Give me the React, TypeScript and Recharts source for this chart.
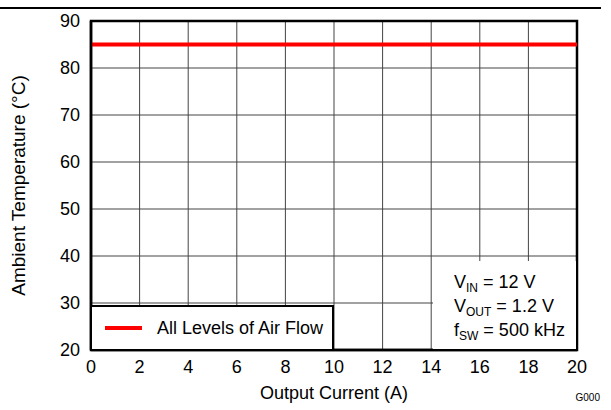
import {
  LineChart,
  Line,
  XAxis,
  YAxis,
  CartesianGrid,
  ReferenceArea,
  Legend,
} from 'recharts'

const currents = [0, 20]
const ambientTemp = [85, 85]
const xTicks = [0, 2, 4, 6, 8, 10, 12, 14, 16, 18, 20]
const yTicks = [20, 30, 40, 50, 60, 70, 80, 90]
const seriesName = 'All Levels of Air Flow'

const data = currents.map((c, i) => ({ current: c, temp: ambientTemp[i] }))

const font = '"Liberation Sans", Arial, sans-serif'
const tickStyle = { fill: '#000', fontSize: 18, fontFamily: font }

function YLabel({ viewBox }: any) {
  const x = 18
  const y = viewBox.y + viewBox.height / 2
  return (
    <text
      x={x}
      y={y}
      transform={`rotate(-90 ${x} ${y})`}
      textAnchor="middle"
      dominantBaseline="central"
      fontSize={19}
      fontFamily={font}
      fill="#000"
    >
      Ambient Temperature (°C)
    </text>
  )
}

function LegendBox() {
  return (
    <div
      style={{
        boxSizing: 'border-box',
        width: '100%',
        height: '100%',
        border: '2px solid #000',
        background: '#fff',
        display: 'flex',
        alignItems: 'center',
        fontFamily: font,
        fontSize: 18,
        color: '#000',
      }}
    >
      <div style={{ width: 37, height: 4, background: '#ff0000', marginLeft: 13, marginRight: 15 }} />
      <span>{seriesName}</span>
    </div>
  )
}

export default function App() {
  return (
    <div style={{ position: 'absolute', left: 0, top: 0, width: 611, height: 410, background: '#fff' }}>
      <div style={{ position: 'absolute', left: 0, top: 7, width: 601, height: 2, background: '#000' }} />
      <LineChart width={611} height={410} data={data} margin={{ top: 21, right: 34, bottom: 5, left: 0 }}>
        <CartesianGrid stroke="#444" strokeWidth={1} horizontalValues={yTicks} verticalValues={xTicks} />
        <XAxis
          dataKey="current"
          type="number"
          domain={[0, 20]}
          ticks={xTicks}
          height={55}
          tickSize={0}
          tickMargin={10}
          axisLine={{ stroke: '#000', strokeWidth: 2.5 }}
          tick={tickStyle}
          label={{ value: 'Output Current (A)', position: 'insideBottom', offset: 6, fontSize: 18, fontFamily: font, fill: '#000' }}
        />
        <YAxis
          type="number"
          domain={[20, 90]}
          ticks={yTicks}
          width={91}
          tickSize={0}
          tickMargin={11}
          axisLine={{ stroke: '#000', strokeWidth: 2.5 }}
          tick={tickStyle}
          label={<YLabel />}
        />
        <ReferenceArea x1={0} x2={20} y1={20} y2={90} fill="none" stroke="#000" strokeWidth={2.5} />
        <Line
          dataKey="temp"
          name={seriesName}
          stroke="#ff0000"
          strokeWidth={4}
          dot={false}
          isAnimationActive={false}
        />
        <Legend
          layout="horizontal"
          verticalAlign="middle"
          align="center"
          content={<LegendBox />}
          wrapperStyle={{ left: 90, top: 305, width: 244, height: 46 }}
        />
      </LineChart>
      <div
        style={{
          position: 'absolute',
          left: 433,
          top: 261,
          width: 143,
          height: 88,
          background: '#fff',
          fontFamily: font,
          fontSize: 18,
          lineHeight: '22px',
          color: '#000',
          paddingTop: 10,
          paddingLeft: 21,
          boxSizing: 'border-box',
        }}
      >
        <div>
          V<span style={{ fontSize: 12, position: 'relative', top: 4 }}>IN</span> = 12 V
        </div>
        <div>
          V<span style={{ fontSize: 12, position: 'relative', top: 4 }}>OUT</span> = 1.2 V
        </div>
        <div>
          f<span style={{ fontSize: 12, position: 'relative', top: 4 }}>SW</span> = 500 kHz
        </div>
      </div>
      <div
        style={{
          position: 'absolute',
          right: 11,
          top: 392,
          fontFamily: font,
          fontSize: 10,
          color: '#000',
        }}
      >
        G000
      </div>
    </div>
  )
}
